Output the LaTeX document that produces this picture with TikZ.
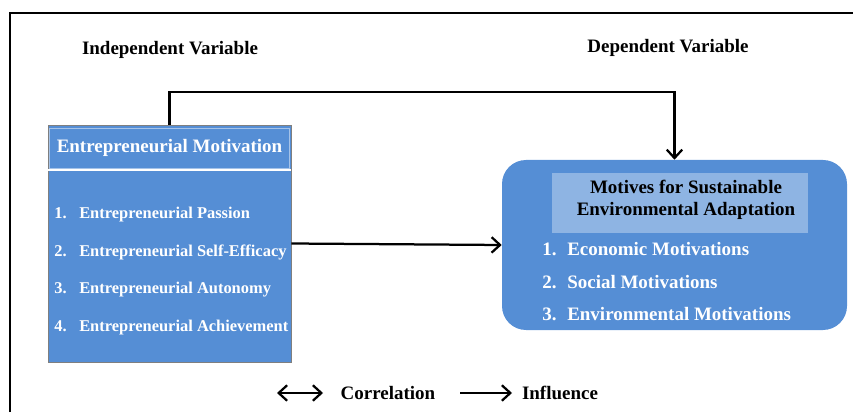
\documentclass[tikz,border=0pt]{standalone}
\usepackage{fontspec}
\setmainfont{Liberation Serif}[BoldFont={Liberation Serif Bold}]
\newfontfamily\timesbold{Liberation Serif Bold}
\usetikzlibrary{arrows.meta,positioning}
\definecolor{boxblue}{HTML}{558ED5}
\definecolor{headblue}{HTML}{8EB4E3}
\definecolor{boxedge}{HTML}{7F7F7F}
\tikzset{
  listitem/.style={anchor=west,inner sep=0pt,text=white},
  link/.style={line width=1.6pt,-{Straight Barb[length=6pt,width=11pt]}},
  dlink/.style={line width=1.6pt,{Straight Barb[length=6pt,width=11pt]}-{Straight Barb[length=6pt,width=11pt]}}
}
\newcommand{\smallitem}{\fontsize{11.7}{14}\selectfont}
\newcommand{\numbox}[1]{\makebox[0.625cm][l]{#1}}

\begin{document}
\begin{tikzpicture}[font=\timesbold\fontsize{13.5}{16}\selectfont]
\useasboundingbox (0,0) rectangle (21.325,10.3);
% outer frame (only left and top edges show)
\draw[line width=1.5pt] (0.25,0) |- (21.325,9.975);

\node (indep) at (4.25,9.05) {Independent Variable};
\node (dep) at (16.7,9.1) {Dependent Variable};

% independent block
\node[fill=boxblue,draw=boxedge,minimum width=6.075cm,minimum height=5.925cm,inner sep=0pt] (motiv) at (4.2375,4.2125) {};
\node[draw=headblue!80,text=white,minimum width=6cm,minimum height=1cm,inner sep=0pt] (motivHead) at (4.2375,6.6) {Entrepreneurial Motivation};
\draw[white,line width=1pt] (1.2,6.05) -- (7.275,6.05);
\node[listitem,font=\timesbold\smallitem] (passion) at (1.35,4.925) {\numbox{1.}Entrepreneurial Passion};
\node[listitem,font=\timesbold\smallitem] (efficacy) at (1.35,3.982) {\numbox{2.}Entrepreneurial Self-Efficacy};
\node[listitem,font=\timesbold\smallitem] (autonomy) at (1.35,3.05) {\numbox{3.}Entrepreneurial Autonomy};
\node[listitem,font=\timesbold\smallitem] (achieve) at (1.35,2.11) {\numbox{4.}Entrepreneurial Achievement};

% dependent block
\node[fill=boxblue,rounded corners=0.6cm,minimum width=8.625cm,minimum height=4.25cm,inner sep=0pt] (motives) at (16.8625,4.175) {};
\node[fill=headblue,minimum width=6.4cm,minimum height=1.5cm,inner sep=0pt] (motivesHead) at (17.0,5.225) {};
\node[align=center,inner sep=0pt] (motivesTitle) at (17.15,5.3) {Motives for Sustainable\\Environmental Adaptation};
\node[listitem] (economic) at (13.55,4.075) {\numbox{1.}Economic Motivations};
\node[listitem] (social) at (13.55,3.25) {\numbox{2.}Social Motivations};
\node[listitem] (environ) at (13.55,2.45) {\numbox{3.}Environmental Motivations};

% links between blocks
\draw[link] (motiv.north) -- ++(0,0.825) -| (motives.north);
\draw[link] (motiv.east) -- (motives.west);

% legend
\coordinate (corrL) at (6.925,0.475);
\coordinate (corrR) at (8.075,0.475);
\draw[dlink] (corrL) -- (corrR);
\node (corrText) at (9.7,0.475) {Correlation};
\coordinate (inflL) at (11.5,0.475);
\coordinate (inflR) at (12.8,0.475);
\draw[link] (inflL) -- (inflR);
\node (inflText) at (14.0,0.475) {Influence};
\end{tikzpicture}
\end{document}
